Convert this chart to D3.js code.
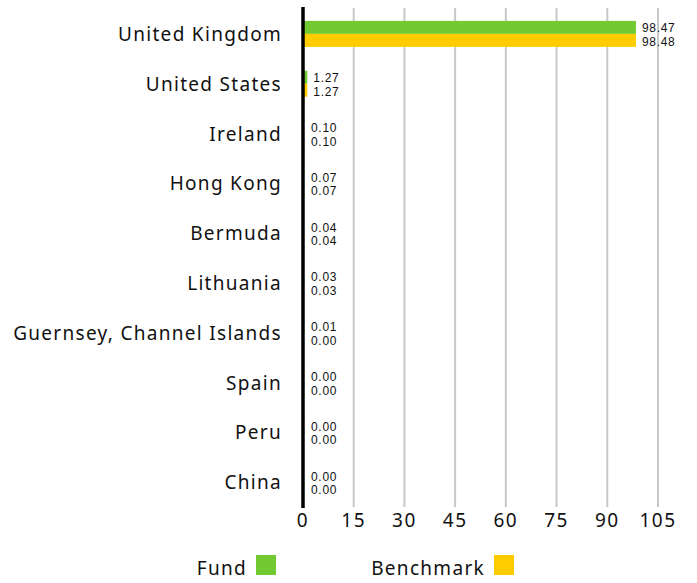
<!DOCTYPE html>
<html>
<head>
<meta charset="utf-8">
<script src="https://cdn.jsdelivr.net/npm/d3@7"></script>
<style>
  body { margin: 0; background: #fff; }
  text { font-family: "Noto Sans", sans-serif; fill: #111; }
</style>
</head>
<body>
<div id="chart"></div>
<script>
const countries = ["United Kingdom", "United States", "Ireland", "Hong Kong", "Bermuda",
  "Lithuania", "Guernsey, Channel Islands", "Spain", "Peru", "China"];
const fund = [98.47, 1.27, 0.10, 0.07, 0.04, 0.03, 0.01, 0.00, 0.00, 0.00];
const benchmark = [98.48, 1.27, 0.10, 0.07, 0.04, 0.03, 0.00, 0.00, 0.00, 0.00];
const ticks = [0, 15, 30, 45, 60, 75, 90, 105];
const seriesNames = ["Fund", "Benchmark"];
const colors = ["#73c932", "#ffcc00"];

const W = 697, H = 583;
const x0 = 303, x1 = 658, yTop = 9, yBot = 507;

const svg = d3.select("#chart").append("svg")
  .attr("width", W).attr("height", H);

const x = d3.scaleLinear().domain([0, 105]).range([x0, x1]);
const y = d3.scaleBand().domain(countries).range([yTop, yBot]).paddingInner(0).paddingOuter(0);
const barH = 13;

// Gridlines
svg.append("g")
  .selectAll("line")
  .data(ticks.slice(1))
  .enter().append("line")
  .attr("x1", d => x(d)).attr("x2", d => x(d))
  .attr("y1", yTop - 1).attr("y2", yBot)
  .attr("stroke", "#c8c8c8").attr("stroke-width", 2);

// Tick labels
svg.append("g")
  .selectAll("text")
  .data(ticks)
  .enter().append("text")
  .attr("x", d => x(d))
  .attr("y", 527)
  .attr("text-anchor", "middle")
  .style("font-size", "19px")
  .style("letter-spacing", "1.5px")
  .text(d => d);

// Bars
const rows = countries.map((c, i) => ({ c, vals: [fund[i], benchmark[i]] }));
const g = svg.append("g").selectAll("g").data(rows).enter().append("g");

g.selectAll("rect")
  .data(d => d.vals.map((v, k) => ({ c: d.c, v, k })))
  .enter().append("rect")
  .attr("x", x(0))
  .attr("y", d => y(d.c) + y.bandwidth() / 2 - barH + d.k * barH)
  .attr("width", d => x(d.v) - x(0))
  .attr("height", barH)
  .attr("fill", d => colors[d.k]);

// Value labels, fund above benchmark
g.selectAll("text.val")
  .data(d => d.vals.map((v, k) => ({ c: d.c, v, k, max: Math.max(...d.vals) })))
  .enter().append("text")
  .attr("class", "val")
  .attr("x", d => Math.max(x(d.max), x(0) + 2) + 6)
  .attr("y", d => y(d.c) + y.bandwidth() / 2 - 1.5 + d.k * 13.5)
  .style("font-family", "'Liberation Sans', Arial, sans-serif")
  .style("font-size", "12px")
  .style("letter-spacing", "0.7px")
  .text(d => d.v.toFixed(2));

// Category labels
svg.append("g")
  .selectAll("text")
  .data(countries)
  .enter().append("text")
  .attr("x", 282)
  .attr("y", d => y(d) + y.bandwidth() / 2 + 7)
  .attr("text-anchor", "end")
  .style("font-size", "19px")
  .style("letter-spacing", "1.3px")
  .text(d => d);

// Zero axis line
svg.append("line")
  .attr("x1", x(0)).attr("x2", x(0))
  .attr("y1", yTop - 2).attr("y2", yBot + 1)
  .attr("stroke", "#000").attr("stroke-width", 3.5);

// Legend
const legendX = [247, 485];
const leg = svg.append("g").selectAll("g").data(seriesNames).enter().append("g");
leg.append("text")
  .attr("x", (d, i) => legendX[i])
  .attr("y", 575)
  .attr("text-anchor", "end")
  .style("font-size", "19px")
  .style("letter-spacing", "1.3px")
  .text(d => d);
leg.append("rect")
  .attr("x", (d, i) => legendX[i] + 9)
  .attr("y", 555)
  .attr("width", 20).attr("height", 20)
  .attr("fill", (d, i) => colors[i]);
</script>
</body>
</html>
